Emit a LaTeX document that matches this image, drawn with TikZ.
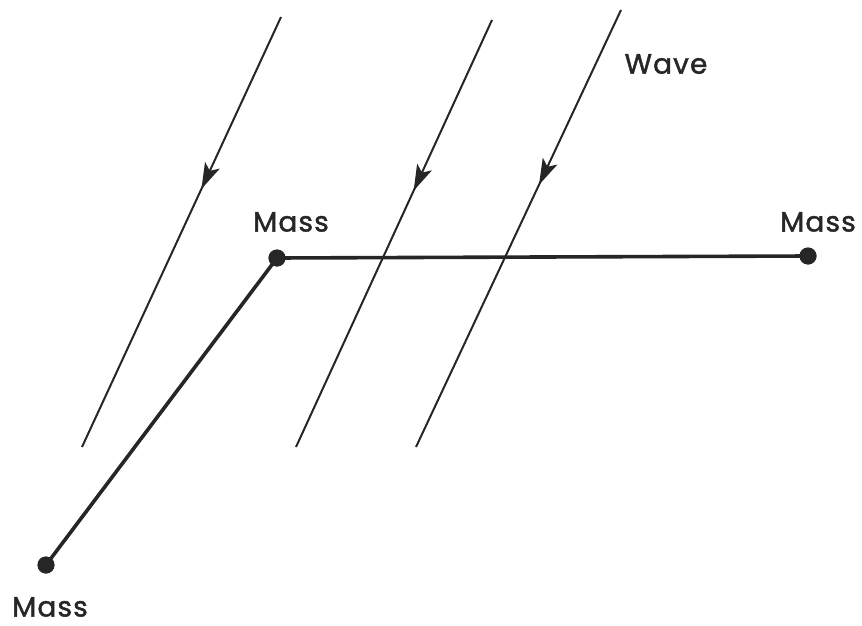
\documentclass[tikz,border=0pt]{standalone}
\usepackage{fontspec}
\setmainfont{Poppins}[FakeBold=1.5,LetterSpace=4]
\usetikzlibrary{arrows.meta,decorations.markings}
\begin{document}
\begin{tikzpicture}[x=1pt,y=-1pt,
  wave/.style={line width=2pt,draw=black!85,
    postaction={decorate},
    decoration={markings,mark=at position 0.40 with {\arrow[black!85]{Stealth[length=26pt,width=16pt,inset=6pt]}}}},
  rod/.style={line width=3.6pt,draw=black!85},
  mass/.style={circle,fill=black!85,inner sep=0pt,minimum size=17pt},
  lbl/.style={font=\fontsize{28}{32}\selectfont,text=black!85}]
\useasboundingbox (0,0) rectangle (862,626);
% wave lines
\coordinate (w1s) at (281,17);  \coordinate (w1e) at (82,447);
\coordinate (w2s) at (492,20);  \coordinate (w2e) at (296,447);
\coordinate (w3s) at (621,10);  \coordinate (w3e) at (416,447);
\draw[wave] (w1s) -- (w1e);
\draw[wave] (w2s) -- (w2e);
\draw[wave] (w3s) -- (w3e);
% masses
\node[mass] (m1) at (277,258) {};
\node[mass] (m2) at (808,256) {};
\node[mass] (m3) at (46,565) {};
\draw[rod] (m1.center) -- (m2.center);
\draw[rod] (m1.center) -- (m3.center);
\node[mass] at (m1) {};
\node[mass] at (m2) {};
\node[mass] at (m3) {};
% labels
\node[lbl] (l1) at (291,222) {Mass};
\node[lbl] (l2) at (818,222) {Mass};
\node[lbl] (l3) at (50,607) {Mass};
\node[lbl] (l4) at (666,64) {Wave};
\end{tikzpicture}
\end{document}
